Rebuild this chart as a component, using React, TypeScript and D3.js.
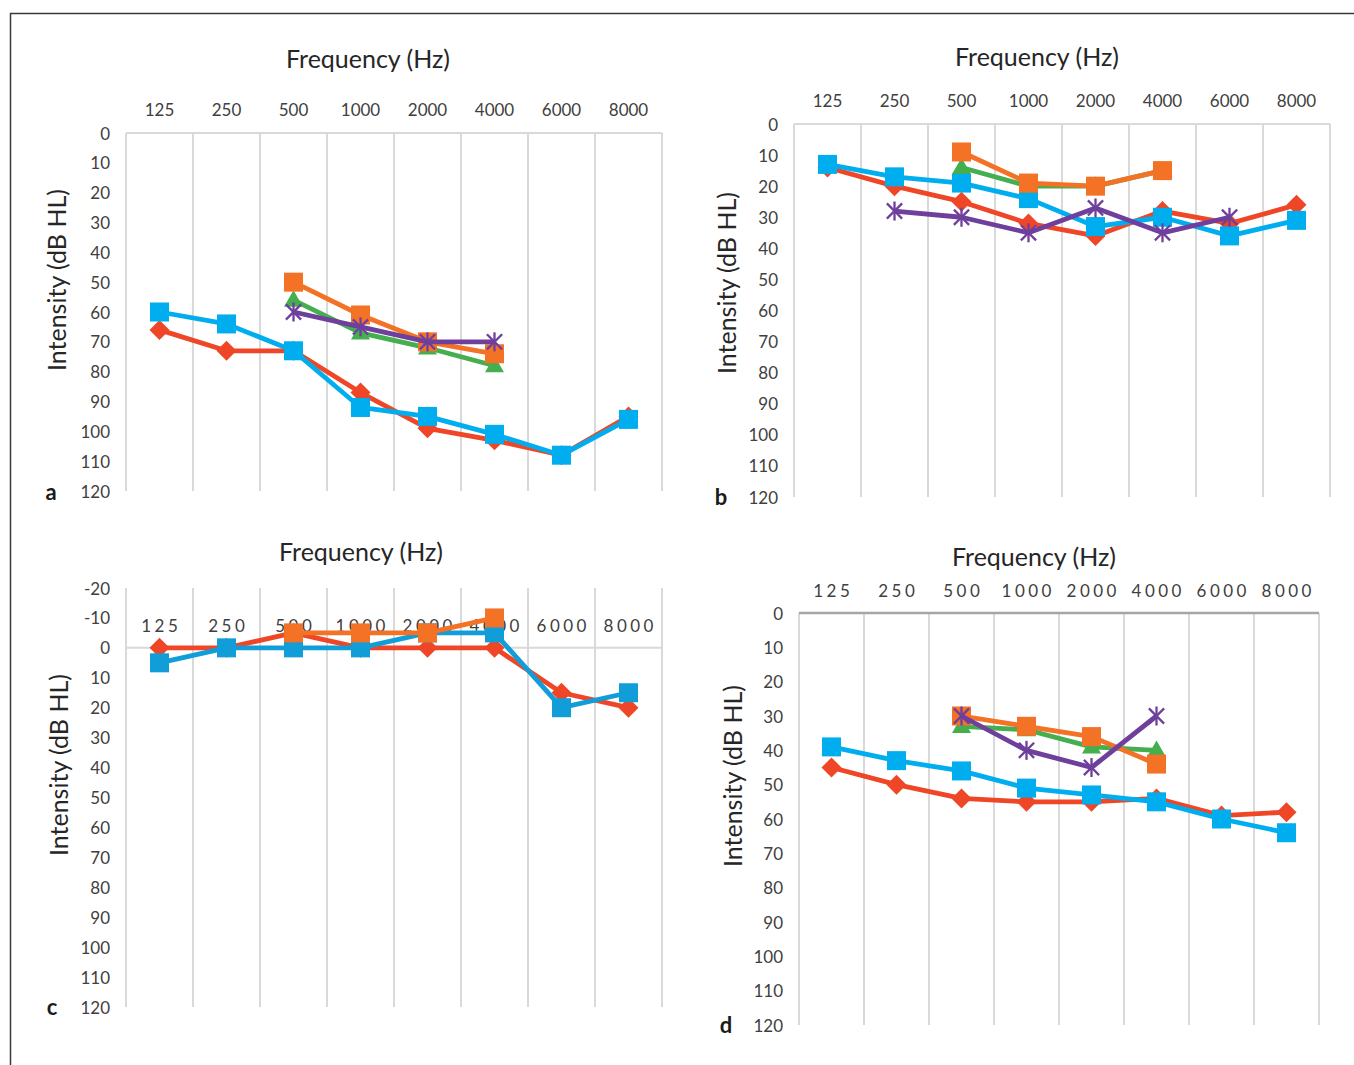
import React from 'react';
import * as d3 from 'd3';

const FREQS = ['125', '250', '500', '1000', '2000', '4000', '6000', '8000'];
const HIGH = ['500', '1000', '2000', '4000'];
const B_PURPLE_FREQS = ['250', '500', '1000', '2000', '4000', '6000'];

// Panel a
const A_RED = [66, 73, 73, 87, 99, 103, 108, 95];
const A_BLUE = [60, 64, 73, 92, 95, 101, 108, 96];
const A_ORANGE = [50, 61, 70, 74];
const A_GREEN = [56, 67, 72, 78];
const A_PURPLE = [60, 65, 70, 70];

// Panel b
const B_RED = [14, 20, 25, 32, 36, 28, 32, 26];
const B_BLUE = [13, 17, 19, 24, 33, 30, 36, 31];
const B_ORANGE = [9, 19, 20, 15];
const B_GREEN = [14, 20, 20, 15];
const B_PURPLE = [28, 30, 35, 27, 35, 30];

// Panel c
const C_RED = [0, 0, -5, 0, 0, 0, 15, 20];
const C_BLUE = [5, 0, 0, 0, -5, -5, 20, 15];
const C_ORANGE = [-5, -5, -5, -10];

// Panel d
const D_RED = [45, 50, 54, 55, 55, 54, 59, 58];
const D_BLUE = [39, 43, 46, 51, 53, 55, 60, 64];
const D_ORANGE = [30, 33, 36, 44];
const D_GREEN = [33, 34, 39, 40];
const D_PURPLE = [30, 40, 45, 30];

const RED = '#EE4626';
const BLUE = '#00AEEF';
const BLUE_C = '#109DD8';
const ORANGE = '#F37225';
const GREEN = '#45AE4F';
const PURPLE = '#6E3F9C';

const FONT = 'Lato, "Open Sans", sans-serif';

type Series = { color: string; marker: string; freqs: string[]; values: number[] };

type Cfg = {
  letter: string;
  left: number; right: number; top: number; bottom: number;
  yMin: number; yMax: number;
  zeroColor: string; zeroWidth: number;
  titleX: number; titleY: number;
  xLabY: number; spacing: number;
  tickRight: number;
  yLabX: number; yLabY: number;
  letX: number; letY: number;
  series: Series[];
};

function Marker({ type, color, cx, cy }: { type: string; color: string; cx: number; cy: number }) {
  if (type === 'square') {
    const s = 19;
    return <rect x={cx - s / 2} y={cy - s / 2} width={s} height={s} fill={color} />;
  }
  if (type === 'diamond') {
    const r = 10;
    return <path d={`M${cx},${cy - r}L${cx + r},${cy}L${cx},${cy + r}L${cx - r},${cy}Z`} fill={color} />;
  }
  if (type === 'triangle') {
    const s = 19;
    const h = s * 0.866;
    return <path d={`M${cx},${cy - h * 0.6}L${cx + s / 2},${cy + h * 0.4}L${cx - s / 2},${cy + h * 0.4}Z`} fill={color} />;
  }
  const r = 9.5;
  const d = r * 0.8;
  return (
    <g stroke={color} strokeWidth={2.3}>
      <line x1={cx - d} y1={cy - d} x2={cx + d} y2={cy + d} />
      <line x1={cx - d} y1={cy + d} x2={cx + d} y2={cy - d} />
      <line x1={cx} y1={cy - r} x2={cx} y2={cy + r} />
    </g>
  );
}

function Panel({ cfg }: { cfg: Cfg }) {
  const x = d3.scaleBand<string>().domain(FREQS).range([cfg.left, cfg.right]);
  const y = d3.scaleLinear().domain([cfg.yMin, cfg.yMax]).range([cfg.top, cfg.bottom]);
  const cx = (f: string) => (x(f) as number) + x.bandwidth() / 2;
  const ticks = d3.range(cfg.yMin, cfg.yMax + 1, 10);
  const line = d3.line<[string, number]>().x(d => cx(d[0])).y(d => y(d[1]));
  const gridX = [...FREQS.map(f => x(f) as number), cfg.right];
  return (
    <g>
      {gridX.map((gx, i) => (
        <line key={i} x1={gx} x2={gx} y1={y(cfg.yMin)} y2={y(cfg.yMax)} stroke="#D9D9D9" strokeWidth={2} />
      ))}
      <line x1={cfg.left} x2={cfg.right} y1={y(0)} y2={y(0)} stroke={cfg.zeroColor} strokeWidth={cfg.zeroWidth} />
      {ticks.map(t => (
        <text key={t} x={cfg.tickRight} y={y(t)} textAnchor="end" dominantBaseline="central" fontSize={17} fill="#404040" fontFamily={FONT}>{t}</text>
      ))}
      {FREQS.map(f => (
        <text key={f} x={cx(f) + cfg.spacing / 2} y={cfg.xLabY} textAnchor="middle" dominantBaseline="central" fontSize={17} fill="#404040" fontFamily={FONT} letterSpacing={cfg.spacing}>{f}</text>
      ))}
      <text x={cfg.titleX} y={cfg.titleY} textAnchor="middle" dominantBaseline="central" fontSize={25} fill="#262626" fontFamily={FONT}>Frequency (Hz)</text>
      <text transform={`translate(${cfg.yLabX},${cfg.yLabY}) rotate(-90)`} textAnchor="middle" dominantBaseline="central" fontSize={25} fill="#262626" fontFamily={FONT}>Intensity (dB HL)</text>
      <text x={cfg.letX} y={cfg.letY} textAnchor="middle" dominantBaseline="central" fontSize={22} fontWeight="bold" fill="#1a1a1a" fontFamily={FONT}>{cfg.letter}</text>
      {cfg.series.map((s, i) => {
        const pts: [string, number][] = s.freqs.map((f, j) => [f, s.values[j]]);
        return (
          <g key={i}>
            <path d={line(pts) || ''} fill="none" stroke={s.color} strokeWidth={4.8} strokeLinejoin="round" />
            {pts.map((p, j) => (
              <Marker key={j} type={s.marker} color={s.color} cx={cx(p[0])} cy={y(p[1])} />
            ))}
          </g>
        );
      })}
    </g>
  );
}

const PANELS: Cfg[] = [
  {
    letter: 'a', left: 126, right: 662, top: 133, bottom: 491, yMin: 0, yMax: 120,
    zeroColor: '#D9D9D9', zeroWidth: 2, titleX: 368, titleY: 58, xLabY: 109, spacing: 0,
    tickRight: 110, yLabX: 56, yLabY: 280, letX: 51, letY: 491,
    series: [
      { color: RED, marker: 'diamond', freqs: FREQS, values: A_RED },
      { color: BLUE, marker: 'square', freqs: FREQS, values: A_BLUE },
      { color: GREEN, marker: 'triangle', freqs: HIGH, values: A_GREEN },
      { color: ORANGE, marker: 'square', freqs: HIGH, values: A_ORANGE },
      { color: PURPLE, marker: 'star', freqs: HIGH, values: A_PURPLE },
    ],
  },
  {
    letter: 'b', left: 794, right: 1330, top: 124, bottom: 497, yMin: 0, yMax: 120,
    zeroColor: '#D9D9D9', zeroWidth: 2, titleX: 1037, titleY: 56, xLabY: 100, spacing: 0,
    tickRight: 778, yLabX: 726, yLabY: 283, letX: 721, letY: 496,
    series: [
      { color: RED, marker: 'diamond', freqs: FREQS, values: B_RED },
      { color: BLUE, marker: 'square', freqs: FREQS, values: B_BLUE },
      { color: GREEN, marker: 'triangle', freqs: HIGH, values: B_GREEN },
      { color: ORANGE, marker: 'square', freqs: HIGH, values: B_ORANGE },
      { color: PURPLE, marker: 'star', freqs: B_PURPLE_FREQS, values: B_PURPLE },
    ],
  },
  {
    letter: 'c', left: 126, right: 662, top: 588, bottom: 1007, yMin: -20, yMax: 120,
    zeroColor: '#D9D9D9', zeroWidth: 2, titleX: 361, titleY: 551, xLabY: 625, spacing: 3.5,
    tickRight: 110, yLabX: 58, yLabY: 765, letX: 52, letY: 1006,
    series: [
      { color: RED, marker: 'diamond', freqs: FREQS, values: C_RED },
      { color: BLUE_C, marker: 'square', freqs: FREQS, values: C_BLUE },
      { color: ORANGE, marker: 'square', freqs: HIGH, values: C_ORANGE },
    ],
  },
  {
    letter: 'd', left: 799, right: 1319, top: 613, bottom: 1025, yMin: 0, yMax: 120,
    zeroColor: '#A6A6A6', zeroWidth: 2.5, titleX: 1034, titleY: 556, xLabY: 590, spacing: 3.5,
    tickRight: 783, yLabX: 732, yLabY: 776, letX: 726, letY: 1024,
    series: [
      { color: RED, marker: 'diamond', freqs: FREQS, values: D_RED },
      { color: BLUE, marker: 'square', freqs: FREQS, values: D_BLUE },
      { color: GREEN, marker: 'triangle', freqs: HIGH, values: D_GREEN },
      { color: ORANGE, marker: 'square', freqs: HIGH, values: D_ORANGE },
      { color: PURPLE, marker: 'star', freqs: HIGH, values: D_PURPLE },
    ],
  },
];

export default function App() {
  return (
    <svg width={1354} height={1065} style={{ position: 'absolute', left: 0, top: 0, background: '#fff' }}>
      <rect x={0} y={0} width={1354} height={1065} fill="#fff" />
      <path d="M10.5,1065L10.5,13.5L1354,13.5" fill="none" stroke="#3a3a3a" strokeWidth={1.5} />
      {PANELS.map(p => <Panel key={p.letter} cfg={p} />)}
    </svg>
  );
}
